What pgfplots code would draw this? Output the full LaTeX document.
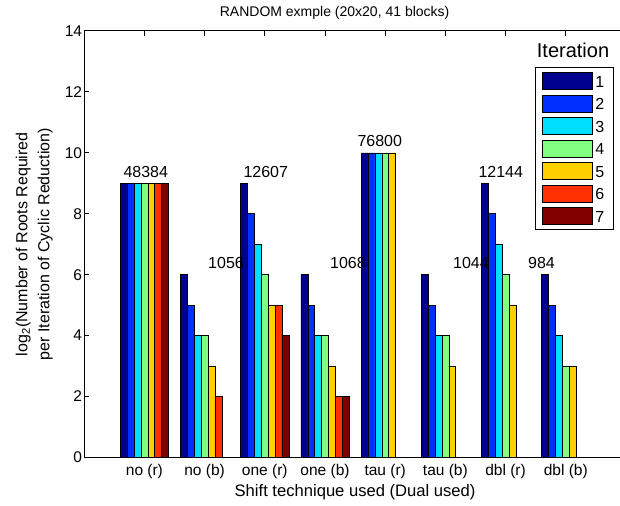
\documentclass[border=0pt]{standalone}
\usepackage{fontspec}
\setmainfont{Liberation Sans}
\usepackage{pgfplots}
\pgfplotsset{compat=1.18}
\definecolor{c1}{rgb}{0,0,0.5625}
\definecolor{c2}{rgb}{0,0.1875,1}
\definecolor{c3}{rgb}{0,0.875,1}
\definecolor{c4}{rgb}{0.5,1,0.5}
\definecolor{c5}{rgb}{1,0.8125,0}
\definecolor{c6}{rgb}{1,0.1875,0}
\definecolor{c7}{rgb}{0.5,0,0}
\pgfplotsset{
  mybar/.style n args={2}{ybar, bar width=0.114286, bar shift=#2, draw=black, line width=0.5bp, fill=#1},
}
\begin{document}
\begin{tikzpicture}
\useasboundingbox (-84.2bp,-48.5bp) rectangle (535.8bp,457.5bp);
\begin{axis}[
  at={(0,0)}, anchor=south west,
  scale only axis, width=541.8bp, height=426.6bp,
  xmin=0, xmax=9, ymin=0, ymax=14,
  xtick={1,...,8},
  xticklabels={no (r),no (b),one (r),one (b),tau (r),tau (b),dbl (r),dbl (b)},
  ytick={0,2,...,14},
  tick align=inside,
  major tick length=5bp,
  axis line style={line width=0.8bp, black},
  tick style={line width=0.8bp, black},
  /pgf/number format/assume math mode=true,
  ticklabel style={font=\fontsize{15.5bp}{18bp}\selectfont},
  xticklabel style={anchor=base, yshift=-18.5bp},
  yticklabel style={anchor=east, inner xsep=2bp},
  xlabel={Shift technique used (Dual used)},
  xlabel style={at={(axis cs:4.5,-1.28)}, anchor=base, font=\fontsize{16.6bp}{19bp}\selectfont},
  ylabel={log\textsubscript{2}(Number of Roots Required\\per Iteration of Cyclic Reduction)},
  ylabel style={at={(axis cs:-0.465,7)}, anchor=south, align=center, font=\fontsize{16bp}{22bp}\selectfont},
  legend image code/.code={\draw[#1] (0bp,-8.5bp) rectangle (50bp,8.5bp);},
  legend style={at={(rel axis cs:1,1)}, anchor=north east, xshift=-11.8bp, yshift=-36bp,
    draw=black, line width=0.8bp, font=\fontsize{16bp}{19bp}\selectfont,
    inner xsep=6.5bp, inner ysep=5bp, row sep=5bp,
    nodes={inner ysep=0bp, inner xsep=3bp, text height=12bp, text depth=0bp}},
  legend cell align=left,
  clip=false,
]
\addplot[mybar={c1}{-0.342857}] coordinates {(1,9) (2,6) (3,9) (4,6) (5,10) (6,6) (7,9) (8,6)};
\addlegendentry{1}
\addplot[mybar={c2}{-0.228571}] coordinates {(1,9) (2,5) (3,8) (4,5) (5,10) (6,5) (7,8) (8,5)};
\addlegendentry{2}
\addplot[mybar={c3}{-0.114286}] coordinates {(1,9) (2,4) (3,7) (4,4) (5,10) (6,4) (7,7) (8,4)};
\addlegendentry{3}
\addplot[mybar={c4}{0}] coordinates {(1,9) (2,4) (3,6) (4,4) (5,10) (6,4) (7,6) (8,3)};
\addlegendentry{4}
\addplot[mybar={c5}{0.114286}] coordinates {(1,9) (2,3) (3,5) (4,3) (5,10) (6,3) (7,5) (8,3)};
\addlegendentry{5}
\addplot[mybar={c6}{0.228571}] coordinates {(1,9) (2,2) (3,5) (4,2)};
\addlegendentry{6}
\addplot[mybar={c7}{0.342857}] coordinates {(1,9) (3,4) (4,2)};
\addlegendentry{7}
\begin{scope}[every node/.style={anchor=base west, yshift=6bp, inner sep=0pt, font=\fontsize{16bp}{19bp}\selectfont}]
\node at (axis cs:0.650,9) {48384};
\node at (axis cs:2.057,6) {1056};
\node at (axis cs:2.643,9) {12607};
\node at (axis cs:4.083,6) {1068};
\node at (axis cs:4.537,10) {76800};
\node at (axis cs:6.126,6) {1044};
\node at (axis cs:6.547,9) {12144};
\node at (axis cs:7.372,6) {984};
\end{scope}
\node[anchor=base, inner sep=0pt, font=\fontsize{14bp}{17bp}\selectfont] at (axis cs:4.16,14.46) {RANDOM exmple (20x20, 41 blocks)};
\node[anchor=base, inner sep=0pt, font=\fontsize{20bp}{24bp}\selectfont] at (axis cs:8.12,13.13) {Iteration};
\end{axis}
\end{tikzpicture}
\end{document}
